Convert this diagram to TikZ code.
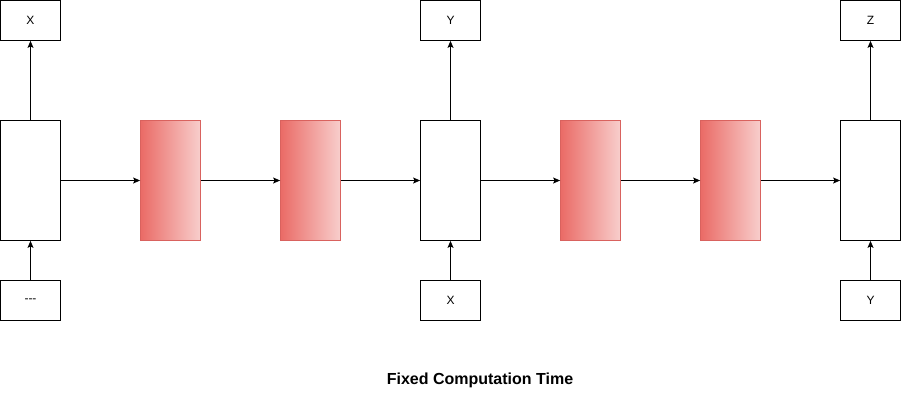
\documentclass[tikz,border=0pt]{standalone}
\usepackage{fontspec}
\setmainfont{Liberation Sans}
\usetikzlibrary{arrows.meta}
\definecolor{redL}{HTML}{EA6B66}
\definecolor{redR}{HTML}{F8CECC}
\definecolor{redB}{HTML}{D9625E}
\begin{document}
\begin{tikzpicture}[x=1pt,y=-1pt,
  small/.style={draw=black,line width=0.8pt,minimum width=60pt,minimum height=40pt,inner sep=0pt,font=\fontsize{12}{14}\selectfont,fill=white},
  tall/.style={draw=black,line width=0.8pt,minimum width=60pt,minimum height=120pt,inner sep=0pt,fill=white},
  redbox/.style={draw=redB,line width=0.8pt,minimum width=60pt,minimum height=120pt,inner sep=0pt,left color=redL,right color=redR},
  arr/.style={line width=0.8pt,-{Stealth[length=7pt,width=6pt,inset=1.5pt]}}]
\useasboundingbox (0,0) rectangle (901,408);
% top boxes
\node[small] (tx) at (30.5,20.5) {X};
\node[small] (ty) at (450.5,20.5) {Y};
\node[small] (tz) at (870.5,20.5) {Z};
% tall boxes
\node[tall] (a) at (30.5,180.5) {};
\node[tall] (b) at (450.5,180.5) {};
\node[tall] (c) at (870.5,180.5) {};
% red boxes
\node[redbox] (r1) at (170.5,180.5) {};
\node[redbox] (r2) at (310.5,180.5) {};
\node[redbox] (r3) at (590.5,180.5) {};
\node[redbox] (r4) at (730.5,180.5) {};
% bottom boxes
\node[small] (bx) at (30.5,300.5) {{-}{-}{-}};
\node[small] (by) at (450.5,300.5) {X};
\node[small] (bz) at (870.5,300.5) {Y};
% arrows
\draw[arr] (a) -- (tx);
\draw[arr] (b) -- (ty);
\draw[arr] (c) -- (tz);
\draw[arr] (bx) -- (a);
\draw[arr] (by) -- (b);
\draw[arr] (bz) -- (c);
\draw[arr] (a) -- (r1);
\draw[arr] (r1) -- (r2);
\draw[arr] (r2) -- (b);
\draw[arr] (b) -- (r3);
\draw[arr] (r3) -- (r4);
\draw[arr] (r4) -- (c);
% title
\node[font=\bfseries\fontsize{16}{18}\selectfont] (title) at (480,380.5) {Fixed Computation Time};
\end{tikzpicture}
\end{document}
